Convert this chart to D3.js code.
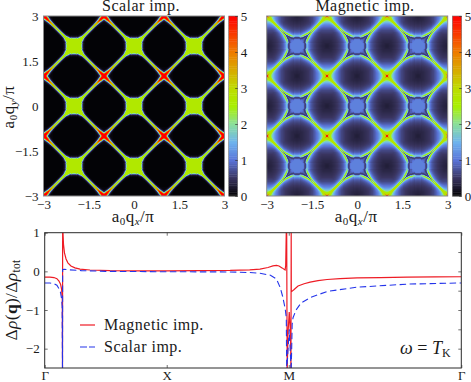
<!DOCTYPE html>
<html><head><meta charset="utf-8">
<script src="https://cdn.jsdelivr.net/npm/d3@7/dist/d3.min.js"></script>
<style>html,body{margin:0;padding:0;background:#fff}svg{display:block}text{font-family:"Liberation Serif",serif;fill:#1a1a1a}</style>
</head><body><svg id="c" width="471" height="382"></svg>
<script>
// Colour bar stops
const colorValues=[0,0.5,1,1.5,2,2.5,3,3.5,4,4.5,5];
const colorStops=["#000000","#39345f","#5a74d8","#6fb4ee","#8adf9c","#a8f000","#bedc00","#d8aa00","#ee7c00","#f83c00","#ff0000"];
// One folded quadrant of each map, upper triangle (row i, column j>=i); a short row holds its last value
const scalarCells=[
[2.7,2.7,2.7,2.7,2.7,2.7,2.7,2,.7,.2,.08,.03],
[2.7,2.7,2.7,2.7,2.7,2.7,2.1,.7,.2,.08,.03],
[2.7,2.7,2.7,2.7,2.7,2.4,.8,.25,.1,.03],
[2.7,2.7,2.7,2.7,2,.7,.2,.07,.03],
[2.7,2.7,2.7,2.4,1,.3,.1,.05,.03],
[2.7,2.7,2.7,2,.6,.18,.07,.03],
[2.7,2.7,2.4,1,.3,.1,.05,.03],
[2.7,2.7,1.8,.5,.15,.06,.03],
[2.7,2.6,1.2,.35,.1,.05,.03],
[2.75,2.5,1,.3,.1,.05,.03],
[2.8,2.4,.9,.27,.08,.03],
[2.8,2.3,.85,.25,.08,.03],
[2.85,2.2,.8,.25,.08,.03],
[2.9,2.2,.8,.25,.08,.03],
[3,2.2,.8,.25,.08,.03],
[3.05,2.2,.8,.25,.08,.03],
[3.1,2.2,.8,.25,.08,.03],
[3.2,2.2,.8,.25,.08,.03],
[3.3,2.3,.8,.25,.08,.03],
[3.4,2.4,.85,.28,.1,.05,.03],
[3.5,2.5,.95,.3,.12,.06,.03],
[3.7,2.7,1.1,.4,.15,.08,.05],
[3.9,3,1.3,.5,.2,.1,.06],
[4.2,3.3,1.5,.65,.28,.14,.08],
[4.6,3.7,1.9,.9,.4,.22],
[5,4.4,2.6,1.2,.55],
[5,4.8,3.2,1.7],
[5,5,4.2],
[5,5],
[5]];
const magneticCells=[
[1.1,1.1,1.1,1.1,1.1,1.1,1.05,.7,.62,1.25,1.5,1.2,.98,.85,.76,.69,.63,.58,.54,.5,.47,.44,.41,.39,.37,.35,.34,.33,.31,.3],
[1.1,1.1,1.1,1.1,1.1,1.05,.72,.62,1.3,1.55,1.22,.99,.86,.77,.7,.64,.59,.55,.51,.48,.45,.42,.4,.38,.36,.35,.34,.32,.31],
[1.1,1.1,1.1,1.1,1,.68,.72,1.55,1.7,1.28,1.02,.88,.78,.71,.65,.6,.56,.52,.49,.46,.43,.41,.39,.37,.36,.34,.33],
[1.1,1.1,1,.8,.6,1,1.95,1.6,1.15,.95,.82,.73,.67,.62,.58,.54,.5,.47,.44,.42,.4,.38,.37,.36],
[1.05,1,.85,.6,.85,2.1,1.85,1.3,1.02,.87,.77,.7,.64,.59,.55,.52,.49,.46,.44,.42,.4,.38,.37],
[.95,.85,.62,.7,2,2.25,1.55,1.12,.93,.81,.73,.66,.61,.57,.53,.5,.47,.45,.43,.41,.39,.38],
[.85,.72,.58,1.4,2.4,1.85,1.3,1.02,.87,.77,.69,.63,.59,.55,.51,.48,.46,.44,.42,.41,.4],
[.78,.62,.75,2.3,2.3,1.55,1.12,.93,.81,.73,.66,.61,.57,.53,.5,.48,.46,.44,.43,.42],
[.72,.58,1.5,2.55,1.85,1.3,1.02,.87,.77,.7,.64,.59,.55,.52,.49,.47,.45,.44,.44],
[.65,.8,2.3,2.4,1.55,1.15,.95,.82,.73,.67,.62,.58,.54,.51,.49,.47,.46,.46],
[.62,1.5,2.6,1.85,1.3,1.05,.9,.79,.71,.65,.6,.56,.53,.51,.49,.48],
[.72,2.2,2.45,1.55,1.2,.98,.84,.75,.68,.63,.58,.55,.53,.51,.5],
[.85,2.5,2.15,1.4,1.1,.92,.8,.72,.66,.61,.58,.55,.54,.54],
[1.1,2.65,1.9,1.32,1.05,.9,.78,.7,.64,.6,.58,.58],
[1.4,2.7,1.75,1.28,1.04,.9,.8,.73,.68,.64,.62,.62],
[1.7,2.7,1.7,1.27,1.05,.9,.8,.73,.69,.66,.65],
[2,2.7,1.7,1.27,1.04,.9,.82,.77,.74,.73],
[2.3,2.7,1.7,1.27,1.06,.94,.87,.83,.81,.8],
[2.5,2.7,1.68,1.3,1.1,1,.94,.9,.88],
[2.65,2.7,1.7,1.33,1.15,1.07,1.02,.98,.97],
[2.75,2.7,1.75,1.4,1.22,1.14,1.1,1.07],
[2.8,2.72,1.85,1.5,1.33,1.25,1.2],
[2.8,2.75,1.95,1.62,1.46,1.38,1.35],
[2.82,2.75,2.1,1.78,1.62,1.56],
[2.85,2.78,2.25,2,1.85,1.8],
[2.9,2.82,2.45,2.25,2.15],
[2.95,2.88,2.65,2.5],
[3.1,3,2.85],
[3.6,3.2],
[4.8]];
const heatTicks=[-3,-1.5,0,1.5,3];
const barTicks=[0,1,2,3,4,5];
// Path cut: distance along Gamma-X-M-Gamma
const pathTicks=[0,1,2,3.414];
const pathLabels=["Γ","X","M","Γ"];
const yTicks=[1,0,-1,-2];
const redS=[0,.043,.076,.1,.117,.13,.138,.144,.146,.147,.15,.154,.162,.175,.19,.215,.248,.289,.371,.535,.78,1,1.27,1.52,1.68,1.764,1.83,1.87,1.9,1.92,1.945,1.97,1.975,1.98,1.983,1.987,1.994,2.004,2.014,2.018,2.02,2.021,2.044,2.076,2.126,2.175,2.24,2.314,2.42,2.56,2.75,2.97,3.2,3.414];
const redV=[-.15,-.15,-.16,-.19,-.25,-.33,-.45,-.7,-2.6,1.1,1,.7,.48,.32,.22,.14,.09,.06,.035,.02,.015,.015,.02,.025,.04,.06,.1,.14,.155,.14,.09,.035,.15,1.1,1.1,-2.6,-1.6,-1.05,-1.6,-2.6,1.1,-.53,-.47,-.38,-.32,-.28,-.24,-.21,-.19,-.17,-.16,-.15,-.145,-.14];
const blueS=[0,.043,.076,.1,.117,.13,.138,.143,.146,.147,.16,.2,.3,.5,1,1.5,1.68,1.764,1.85,1.9,1.93,1.95,1.97,1.98,1.983,2.004,2.02,2.028,2.035,2.06,2.1,2.175,2.314,2.56,2.97,3.414];
const blueV=[-.3,-.3,-.32,-.36,-.45,-.55,-.7,-.9,-2.6,.05,.055,.04,.02,0,-.01,-.015,-.03,-.05,-.1,-.2,-.42,-.65,-.95,-1.2,-2.6,-1.5,-2.6,-1.37,-1.2,-1,-.82,-.68,-.52,-.41,-.33,-.3];

const svg=d3.select("#c");
const color=d3.scaleLinear().domain(colorValues).range(colorStops).clamp(true);
const defs=svg.append("defs");
defs.append("filter").attr("id","soft").attr("filterUnits","userSpaceOnUse").attr("x",0).attr("y",0).attr("width",471).attr("height",382)
  .attr("color-interpolation-filters","sRGB").append("feGaussianBlur").attr("stdDeviation",0.5);
const perUnit=30;
const fold=q=>Math.abs((((q+1)%2+2)%2)-1);
function cellValue(tbl,qx,qy){
  const a=Math.min(29,Math.floor(fold(qx)*perUnit)),b=Math.min(29,Math.floor(fold(qy)*perUnit));
  const i=Math.min(a,b),j=Math.max(a,b),row=tbl[i];
  return row[Math.min(j-i,row.length-1)];
}
function tickStyle(g,col){g.selectAll(".domain").remove();g.selectAll("line").attr("stroke",col).attr("stroke-width",.7);g.selectAll("text").attr("fill","#1a1a1a").style("font-size","13px");}
function addLabel(sel,sub){
  sel.style("font-size","17px").style("letter-spacing",".5px");
  sel.append("tspan").text("a");sel.append("tspan").attr("dy",3).style("font-size","11px").text("0");
  sel.append("tspan").attr("dy",-3).text("q");sel.append("tspan").attr("dy",3).style("font-size","11px").style("font-style","italic").text(sub);
  sel.append("tspan").attr("dy",-3).text("/π");
}
function heat(id,tbl,x0,x1,cb0,cb1,leftAxis,title,titleX){
  const x=d3.scaleLinear().domain([-3,3]).range([x0,x1]);
  const y=d3.scaleLinear().domain([-3,3]).range([196,16]);
  defs.append("clipPath").attr("id",id).append("rect").attr("x",x0).attr("y",16).attr("width",x1-x0).attr("height",180);
  const cv=document.createElement("canvas");cv.width=471;cv.height=382;
  const ctx=cv.getContext("2d");
  for(let kx=-93;kx<93;kx++)for(let ky=-93;ky<93;ky++){
    const qx=kx/perUnit,qy=ky/perUnit;
    const px=Math.round(x(qx)),px2=Math.round(x(qx+1/perUnit)),py=Math.round(y(qy+1/perUnit)),py2=Math.round(y(qy));
    ctx.fillStyle=color(cellValue(tbl,qx+.5/perUnit,qy+.5/perUnit));
    ctx.fillRect(px,py,px2-px,py2-py);
  }
  svg.append("g").attr("clip-path",`url(#${id})`).append("image").attr("href",cv.toDataURL()).attr("x",0).attr("y",0).attr("width",471).attr("height",382).attr("filter","url(#soft)");
  svg.append("rect").attr("x",x0).attr("y",16).attr("width",x1-x0).attr("height",180).attr("fill","none").attr("stroke","#8a8a8a").attr("stroke-width",1);
  const gx=svg.append("g").attr("transform","translate(0,196)").call(d3.axisBottom(x).tickValues(heatTicks).tickFormat(d3.format("")).tickSize(0).tickPadding(4));
  tickStyle(gx,"#888");
  if(leftAxis){
    const gy=svg.append("g").attr("transform",`translate(${x0},0)`).call(d3.axisLeft(y).tickValues(heatTicks).tickFormat(d3.format("")).tickSize(0).tickPadding(5));
    tickStyle(gy,"#888");
  }
  const cbY=d3.scaleLinear().domain([0,5]).range([196,16]);
  svg.append("g").selectAll("rect").data(d3.range(0,5,.05)).join("rect")
    .attr("x",cb0).attr("width",cb1-cb0).attr("y",d=>cbY(d+.05)).attr("height",cbY(0)-cbY(.05)+.4)
    .attr("fill",d=>color(d+.025));
  svg.append("rect").attr("x",cb0).attr("y",16).attr("width",cb1-cb0).attr("height",180).attr("fill","none").attr("stroke","#777").attr("stroke-width",.6);
  const gb=svg.append("g").attr("transform",`translate(${cb1},0)`).call(d3.axisRight(cbY).tickValues(barTicks).tickFormat(d3.format("d")).tickSize(-2.5).tickPadding(3));
  tickStyle(gb,"#333");
  svg.append("text").attr("x",titleX).attr("y",11).attr("text-anchor","middle").style("font-size","16px").style("letter-spacing",".45px").text(title);
  addLabel(svg.append("text").attr("x",(x0+x1)/2-1).attr("y",222).attr("text-anchor","middle"),"x");
}
heat("h1",scalarCells,43.5,224.5,228.7,237.7,true,"Scalar imp.",141);
heat("h2",magneticCells,266.7,447.7,452.3,461.7,false,"Magnetic imp.",365);
addLabel(svg.append("text").attr("transform","translate(14,107) rotate(-90)").attr("text-anchor","middle"),"y");

// Line panel
const X=d3.scaleLinear().domain([0,3.414]).range([44.7,461.3]);
const Y=d3.scaleLinear().domain([-2.5,1]).range([368,232.7]);
defs.append("clipPath").attr("id","lc").append("rect").attr("x",44.7).attr("y",232.7).attr("width",416.6).attr("height",135.3);
const line=d3.line().x(d=>X(d[0])).y(d=>Y(d[1]));
const plot=svg.append("g").attr("clip-path","url(#lc)");
plot.append("path").attr("d",line(d3.zip(redS,redV))).attr("fill","none").attr("stroke","#ee1c25").attr("stroke-width",1.2);
plot.append("path").attr("d",line(d3.zip(blueS,blueV))).attr("fill","none").attr("stroke","#2434ea").attr("stroke-width",1.1).attr("stroke-dasharray","6.5,3.5");
svg.append("rect").attr("x",44.7).attr("y",232.7).attr("width",416.6).attr("height",135.3).attr("fill","none").attr("stroke","#2b2b2b").attr("stroke-width",1);
const gxl=svg.append("g").attr("transform","translate(0,368)").call(d3.axisBottom(X).tickValues(pathTicks).tickFormat((d,i)=>pathLabels[i]).tickSize(-3).tickPadding(3));
tickStyle(gxl,"#333");
const gxt=svg.append("g").attr("transform","translate(0,232.7)").call(d3.axisTop(X).tickValues(pathTicks).tickFormat("").tickSize(-3));
tickStyle(gxt,"#333");
const gyl=svg.append("g").attr("transform","translate(44.7,0)").call(d3.axisLeft(Y).tickValues(yTicks).tickFormat(d3.format("d")).tickSize(-3).tickPadding(5));
tickStyle(gyl,"#333");
const gyr=svg.append("g").attr("transform","translate(461.3,0)").call(d3.axisRight(Y).tickValues([.5,0,-.5,-1,-1.5,-2]).tickFormat("").tickSize(-3));
tickStyle(gyr,"#333");
// legend
svg.append("line").attr("x1",80).attr("x2",95).attr("y1",325).attr("y2",325).attr("stroke","#ee1c25").attr("stroke-width",1.2);
svg.append("line").attr("x1",80).attr("x2",95).attr("y1",347).attr("y2",347).attr("stroke","#2434ea").attr("stroke-width",1.2).attr("stroke-dasharray","7,2");
svg.append("text").attr("x",104).attr("y",330).style("font-size","16px").style("letter-spacing",".5px").text("Magnetic imp.");
svg.append("text").attr("x",104).attr("y",352).style("font-size","16px").style("letter-spacing",".5px").text("Scalar imp.");
const om=svg.append("text").attr("x",400).attr("y",354).style("font-size","18px");
om.append("tspan").style("font-style","italic").text("ω");om.append("tspan").text(" = ");
om.append("tspan").style("font-style","italic").text("T");om.append("tspan").attr("dy",3).style("font-size","12px").text("K");
const dl=svg.append("text").attr("transform","translate(17,300) rotate(-90)").attr("text-anchor","middle").style("font-size","17.5px").style("letter-spacing",".3px");
dl.append("tspan").text("Δ");dl.append("tspan").style("font-style","italic").text("ρ");dl.append("tspan").text("(");
dl.append("tspan").style("font-weight","bold").text("q");dl.append("tspan").text(")/Δ");
dl.append("tspan").style("font-style","italic").text("ρ");dl.append("tspan").attr("dy",3).style("font-size","11.5px").text("tot");
</script></body></html>
